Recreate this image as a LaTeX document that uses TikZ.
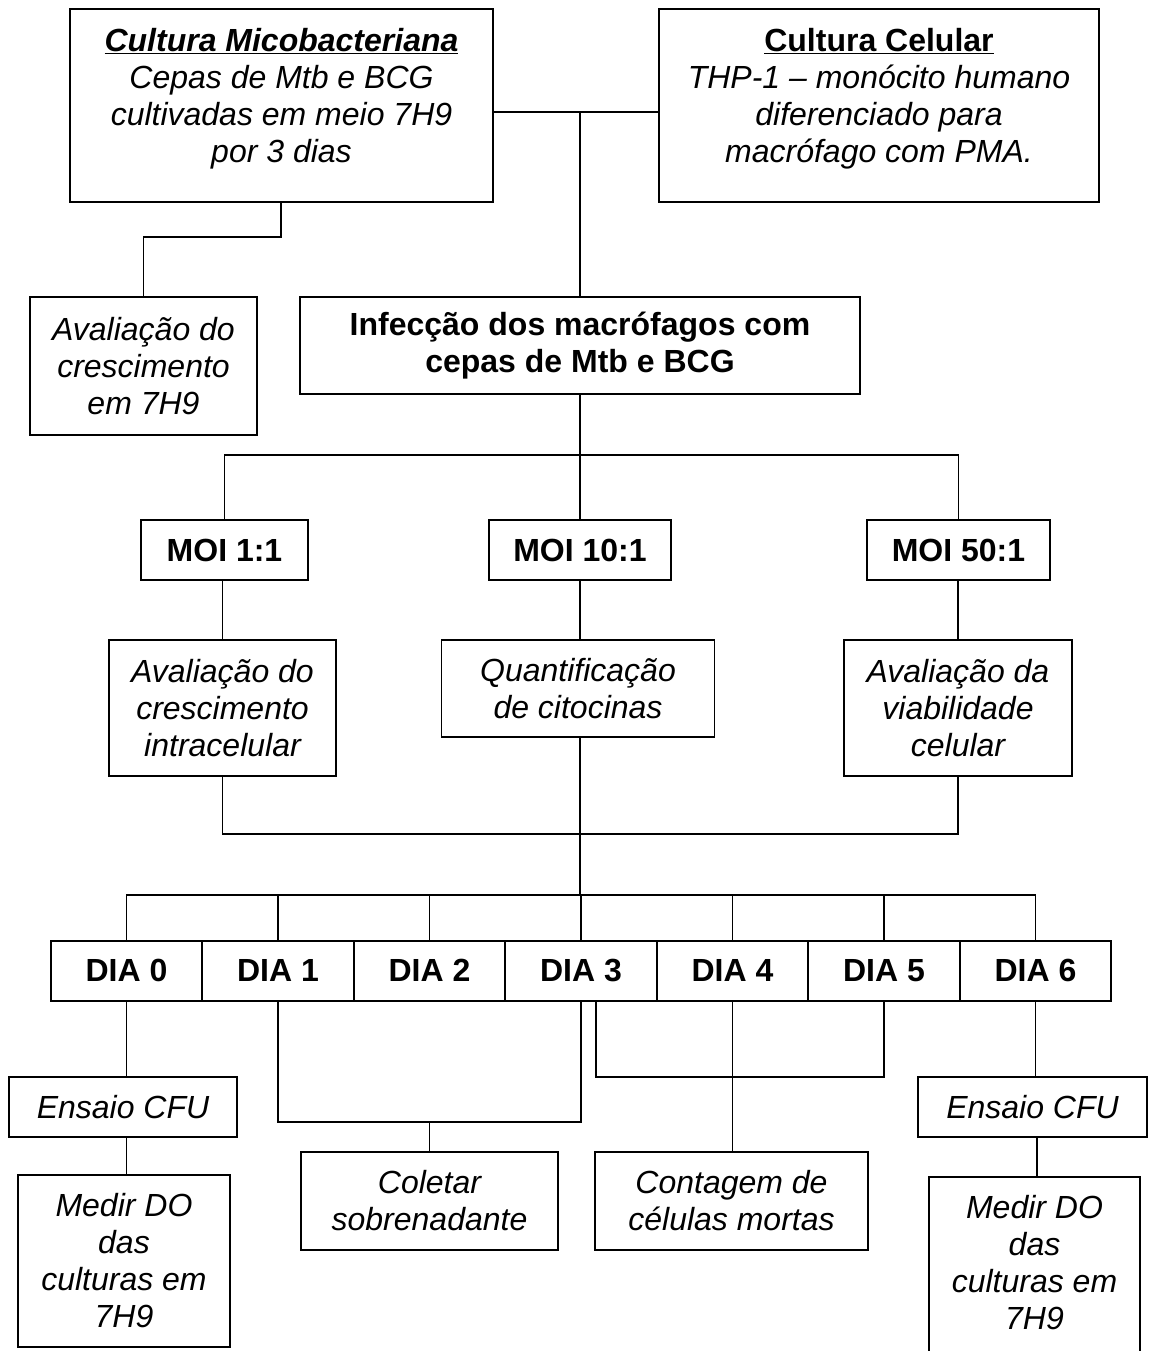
\documentclass[tikz,border=0pt]{standalone}
\usepackage{fontspec}
\setmainfont{Liberation Sans}
\newcommand\dfont{\fontsize{32}{37}\selectfont}
\tikzset{
  box/.style={draw, line width=1.8pt, rectangle, inner sep=0pt, align=center, font=\dfont},
  ibox/.style={box, font=\dfont\itshape},
  bbox/.style={box, font=\dfont\bfseries},
  txt/.style={align=center, inner sep=0pt, font=\dfont\itshape},
  conn/.style={line width=1.6pt, line cap=rect},
}
\begin{document}
\begin{tikzpicture}[x=1pt,y=-1pt]
\useasboundingbox (0,0) rectangle (1149,1351);
\clip (0,0) rectangle (1149,1351);
\fill[white] (0,0) rectangle (1149,1351);

% top boxes
\node[box, minimum width=423, minimum height=193] (mico) at (281.5,105.5) {};
\node[txt] (micot) at ([yshift=7]mico.center) {\underline{\textbf{Cultura Micobacteriana}}\\Cepas de Mtb e BCG\\cultivadas em meio 7H9\\por 3 dias};
\node[box, minimum width=440, minimum height=193] (celu) at (879,105.5) {};
\node[txt] (celut) at ([yshift=7]celu.center) {\underline{\textbf{\upshape Cultura Celular}}\\THP-1 -- monócito humano\\diferenciado para\\macrófago com PMA.};

\node[ibox, minimum width=227, minimum height=138] (aval0) at (143.5,366) {Avaliação do\\crescimento\\em 7H9};
\node[bbox, minimum width=560, minimum height=97] (infec) at (580,345.5) {Infecção dos macrófagos com\\cepas de Mtb e BCG};

% MOI
\node[bbox, minimum width=167, minimum height=60] (moi1) at (224.5,550) {MOI 1:1};
\node[bbox, minimum width=182, minimum height=60] (moi10) at (580,550) {MOI 10:1};
\node[bbox, minimum width=183, minimum height=60] (moi50) at (958.5,550) {MOI 50:1};

\node[ibox, minimum width=227, minimum height=136] (aval1) at (222.5,708) {Avaliação do\\crescimento\\intracelular};
\node[ibox, minimum width=273, minimum height=97] (quant) at (578,688.5) {Quantificação\\de citocinas};
\node[ibox, minimum width=228, minimum height=136] (viab) at (958,708) {Avaliação da\\viabilidade\\celular};

% DIA row
\foreach \i/\x in {0/126.5,1/278,2/429.5,3/581,4/732.5,5/884,6/1035.5}{
  \node[bbox, minimum width=151.5, minimum height=60] (d\i) at (\x,970.7) {DIA \i};
}

% bottom
\node[ibox, minimum width=228, minimum height=60] (cfu0) at (123,1107) {Ensaio CFU};
\node[ibox, minimum width=212, minimum height=172] (med0) at (124,1261) {Medir DO\\das\\culturas em\\7H9};
\node[ibox, minimum width=257, minimum height=98] (colet) at (429.5,1201) {Coletar\\sobrenadante};
\node[ibox, minimum width=273, minimum height=98] (cont) at (731.5,1201) {Contagem de\\células mortas};
\node[ibox, minimum width=229, minimum height=60] (cfu6) at (1032.5,1107) {Ensaio CFU};
\node[box, minimum width=211, minimum height=200] (med6) at (1034.5,1277) {};
\node[txt] (med6t) at (1034.5,1263) {Medir DO\\das\\culturas em\\7H9};

% connectors
\coordinate (j1) at (580,112);
\draw[conn] (mico.east |- j1) -- (celu.west |- j1);
\draw[conn] (j1) -- (infec.north);
\coordinate (j2) at (281,237);
\draw[conn] (mico.south -| j2) -- (j2) -| (aval0.north);

\coordinate (b1) at (580,455);
\draw[conn] (infec.south) -- (b1);
\draw[conn] (moi1.north) -- (moi1.north |- b1) -- (moi50.north |- b1) -- (moi50.north);
\draw[conn] (b1) -- (moi10.north);

\draw[conn] (moi1.south -| aval1.north) -- (aval1.north);
\draw[conn] (moi10.south) -- (moi10.south |- quant.north);
\draw[conn] (moi50.south -| viab.north) -- (viab.north);

\coordinate (b2) at (580,834);
\coordinate (db) at (580,895);
\draw[conn] (aval1.south) -- (aval1.south |- b2) -- (viab.south |- b2) -- (viab.south);
\draw[conn] (quant.south -| b2) -- (db);
\draw[conn] (d0.north) -- (d0.north |- db) -- (d6.north |- db) -- (d6.north);
\foreach \i in {1,...,5}{\draw[conn] (d\i.north) -- (d\i.north |- db);}

\draw[conn] (d0.south) -- (d0.south |- cfu0.north);
\draw[conn] (cfu0.south -| d0.south) -- (med0.north -| d0.south);

\coordinate (c1) at (429.5,1121.7);
\draw[conn] (d1.south) -- (d1.south |- c1) -- (d3.south |- c1) -- (d3.south);
\draw[conn] (c1) -- (colet.north);

\coordinate (c2) at (732.5,1076.7);
\draw[conn] ([xshift=15]d3.south) -- ([xshift=15]d3.south |- c2) -- (d5.south |- c2) -- (d5.south);
\draw[conn] (d4.south) -- (d4.south |- cont.north);

\draw[conn] (d6.south) -- (d6.south |- cfu6.north);
\coordinate (c3) at (1037,1137);
\draw[conn] (cfu6.south -| c3) -- (med6.north -| c3);
\end{tikzpicture}
\end{document}
